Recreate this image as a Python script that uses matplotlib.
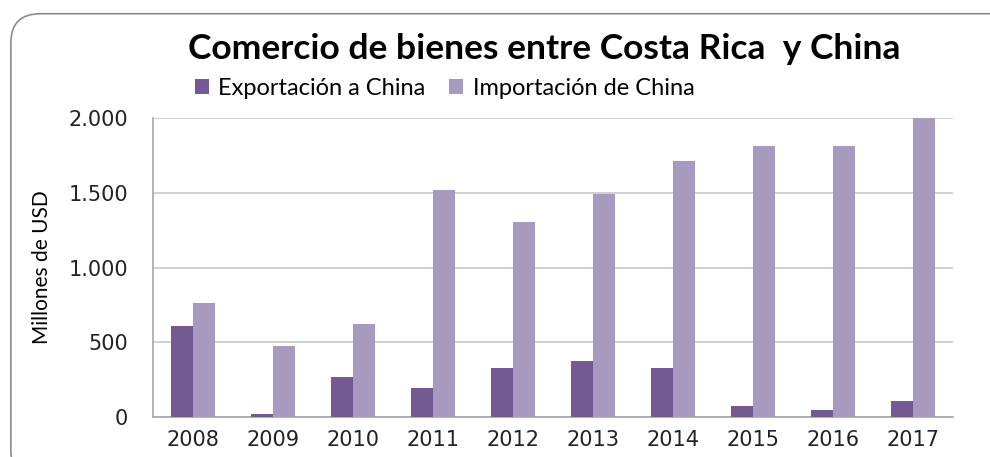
"""
Comercio de bienes entre Costa Rica y China, 2008-2017 (millones de USD).
"""
import matplotlib

matplotlib.use("Agg")
import matplotlib.pyplot as plt
import numpy as np
from matplotlib.patches import FancyBboxPatch
from matplotlib.ticker import FuncFormatter

# ── Data ────────────────────────────────────────────────────────────────────
years = ["2008", "2009", "2010", "2011", "2012", "2013", "2014", "2015", "2016", "2017"]
exportacion = [609, 20, 268, 194, 328, 375, 328, 74, 47, 107]
importacion = [763, 475, 622, 1518, 1304, 1492, 1712, 1813, 1813, 2000]
y_ticks = [0, 500, 1000, 1500, 2000]

EXP_COLOR = "#735A93"
IMP_COLOR = "#A899BF"
GRID_COLOR = "#C8C8C8"

fig = plt.figure(figsize=(9.9, 4.57), dpi=100)

# rounded chart frame
frame = FancyBboxPatch((0.011, -0.05), 1.05, 1.02, boxstyle="round,pad=0,rounding_size=0.03",
                       transform=fig.transFigure, facecolor="none",
                       edgecolor="#8C8C8C", lw=1.2, zorder=0, mutation_aspect=2.1)
fig.patches.append(frame)

ax = fig.add_axes([0.1545, 0.0875, 0.808, 0.654])
ax.set_zorder(2)
ax.set_facecolor("none")

x = np.arange(len(years))
w = 0.275
ax.bar(x - w / 2, exportacion, width=w, color=EXP_COLOR, label="Exportación a China", zorder=3)
ax.bar(x + w / 2, importacion, width=w, color=IMP_COLOR, label="Importación de China", zorder=3)

ax.set_xlim(-0.5, len(years) - 0.5)
ax.set_ylim(0, 2000)
ax.set_yticks(y_ticks)
ax.yaxis.set_major_formatter(FuncFormatter(lambda v, _: f"{int(v):,}".replace(",", ".")))
ax.set_xticks(x)
ax.set_xticklabels(years)
ax.tick_params(axis="both", length=0, labelsize=15, colors="#222222")
ax.tick_params(axis="y", pad=18)
ax.tick_params(axis="x", pad=9)

ax.grid(axis="y", color=GRID_COLOR, lw=1.2, zorder=0)
for side in ("top", "right"):
    ax.spines[side].set_visible(False)
for side in ("left", "bottom"):
    ax.spines[side].set_color("#A6A6A6")
    ax.spines[side].set_linewidth(1.2)

ax.set_ylabel("Millones de USD", fontsize=15, family="Lato", labelpad=12)

fig.text(0.55, 0.893, "Comercio de bienes entre Costa Rica  y China", ha="center", va="center",
         fontsize=25.5, fontweight="bold", family="Lato")

fig.legend(loc="center", bbox_to_anchor=(0.449, 0.807), ncol=2, frameon=False,
           prop={"family": "Lato", "size": 17}, handlelength=0.6, handleheight=0.6,
           handletextpad=0.4, columnspacing=1.0)

plt.savefig("out.png", dpi=100)
plt.close(fig)
